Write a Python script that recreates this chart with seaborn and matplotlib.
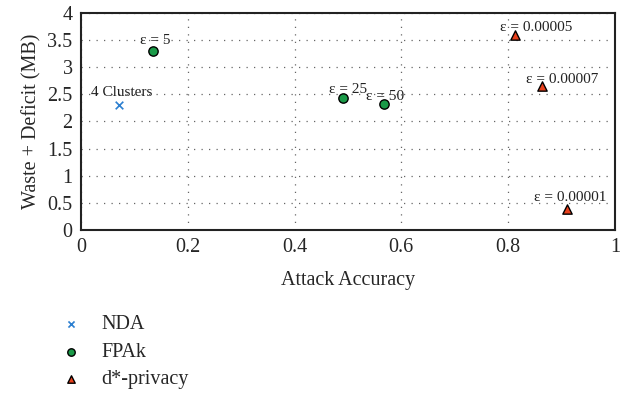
import matplotlib
matplotlib.use("Agg")
import matplotlib.pyplot as plt
import seaborn as sns
import pandas as pd

# Attack accuracy vs. waste + deficit for each obfuscation method
methods = ["NDA", "FPAk", "FPAk", "FPAk", "d*-privacy", "d*-privacy", "d*-privacy"]
accuracy = [0.071, 0.135, 0.490, 0.568, 0.812, 0.863, 0.910]
waste_deficit = [2.31, 3.30, 2.43, 2.32, 3.59, 2.65, 0.39]
labels = ["4 Clusters", "ε = 5", "ε = 25", "ε = 50", "ε = 0.00005", "ε = 0.00007", "ε = 0.00001"]
label_offsets = [(3, 12), (2, 10), (5, 9), (1, 8), (22, 8), (20, 7), (3, 11)]

df = pd.DataFrame({"method": methods, "acc": accuracy, "wd": waste_deficit})

sns.set_style("white")
plt.rcParams["font.family"] = ["Liberation Serif", "DejaVu Serif"]

fig = plt.figure(figsize=(6.32, 3.93), dpi=100)
ax = fig.add_axes([0.128, 0.415, 0.845, 0.552])

palette = {"NDA": "#2b7fd0", "FPAk": "#1a9a48", "d*-privacy": "#e8401c"}
markers = {"NDA": "x", "FPAk": "o", "d*-privacy": "^"}

for m in ["NDA", "FPAk", "d*-privacy"]:
    sub = df[df["method"] == m]
    if m == "NDA":
        sns.scatterplot(data=sub, x="acc", y="wd", ax=ax, marker="x", color=palette[m],
                        s=30, linewidth=1.2, label=m, zorder=3)
    else:
        sns.scatterplot(data=sub, x="acc", y="wd", ax=ax, marker=markers[m], color=palette[m],
                        s=45, edgecolor="black", linewidth=1.0, label=m, zorder=3)

for x, y, t, off in zip(accuracy, waste_deficit, labels, label_offsets):
    ax.annotate(t, (x, y), xytext=off, textcoords="offset pixels",
                ha="center", va="center", fontsize=11, color="#222222")

ax.set_xlim(0, 1)
ax.set_ylim(0, 4)
xt = [0, 0.2, 0.4, 0.6, 0.8, 1]
yt = [0, 0.5, 1, 1.5, 2, 2.5, 3, 3.5, 4]
ax.set_xticks(xt)
ax.set_xticklabels([f"{v:g}" for v in xt])
ax.set_yticks(yt)
ax.set_yticklabels([f"{v:g}" for v in yt])
ax.tick_params(length=0, labelsize=14.5, pad=6)
ax.grid(True, linestyle=(0, (1, 5)), color="#666666", linewidth=0.9)
ax.set_axisbelow(True)
for s in ax.spines.values():
    s.set_color("#222222")
    s.set_linewidth(1.5)

ax.set_xlabel("Attack Accuracy", fontsize=14.5, labelpad=10)
ax.set_ylabel("Waste + Deficit (MB)", fontsize=14.5, labelpad=4)

leg = ax.legend(loc="upper left", bbox_to_anchor=(0.052, 0.244), bbox_transform=fig.transFigure,
                frameon=False, fontsize=14.5, handletextpad=0.5, labelspacing=0.42,
                markerscale=0.8)

fig.savefig("out.png", dpi=100)
